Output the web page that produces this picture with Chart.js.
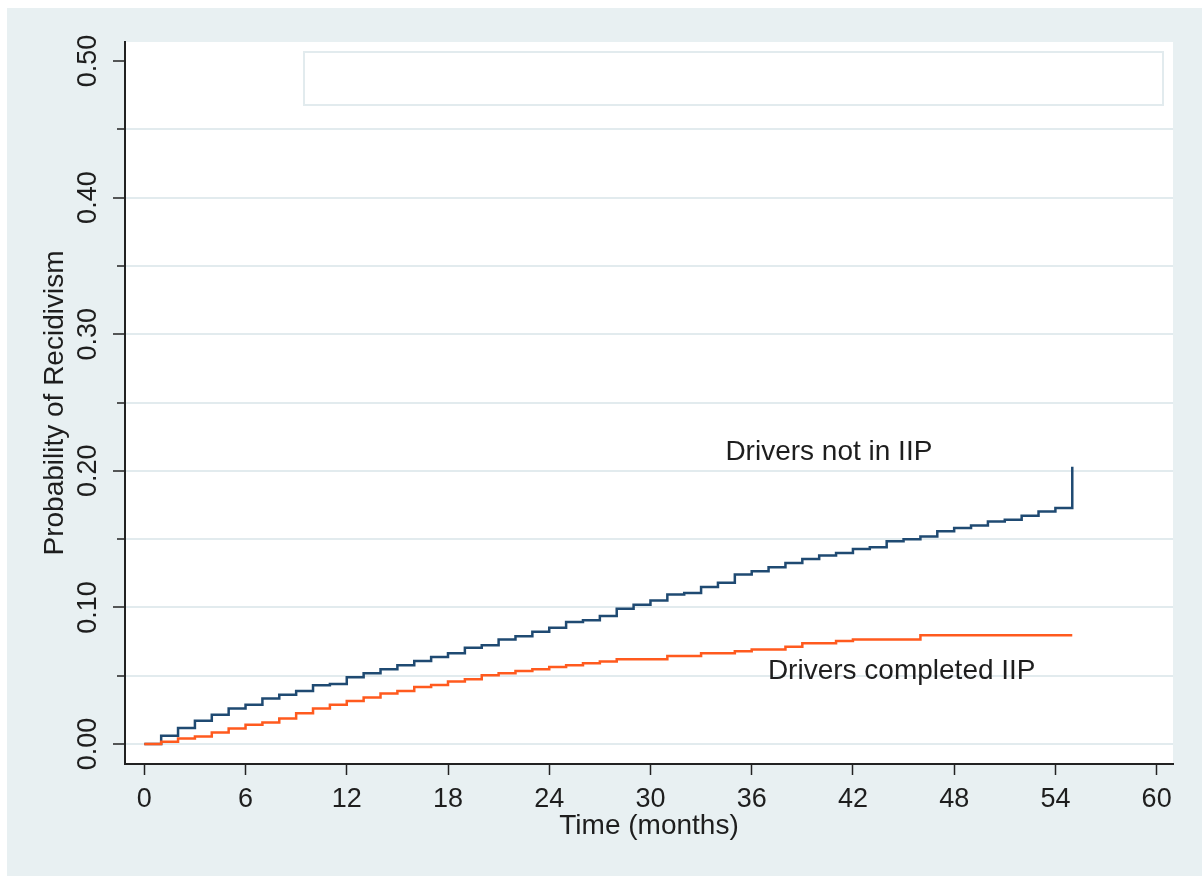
<!DOCTYPE html>
<html>
<head>
<meta charset="utf-8">
<script src="https://cdn.jsdelivr.net/npm/chart.js@4"></script>
<style>
  html, body { margin: 0; padding: 0; background: #ffffff; }
  #wrap { position: absolute; left: 7px; top: 8px; width: 1195px; height: 868px; background: #e8f0f2; }
</style>
</head>
<body>
<div id="wrap"><canvas id="kmChart" width="1195" height="868"></canvas></div>
<script>
// Cumulative probability of recidivism by month
const notInTime = [0, 1, 2, 3, 4, 5, 6, 7, 8, 9, 10, 11, 12, 13, 14, 15, 16, 17, 18, 19, 20,
    21, 22, 23, 24, 25, 26, 27, 28, 29, 30, 31, 32, 33, 34, 35, 36, 37, 38, 39, 40,
    41, 42, 43, 44, 45, 46, 47, 48, 49, 50, 51, 52, 53, 54, 55];
const notInRisk = [0, 0.006, 0.0117, 0.017, 0.0214, 0.026, 0.0287, 0.0333, 0.036, 0.0389, 0.043,
    0.044, 0.0489, 0.0518, 0.0547, 0.0577, 0.0608, 0.0637, 0.0664, 0.0705, 0.0723,
    0.0766, 0.079, 0.0822, 0.0851, 0.0894, 0.0907, 0.0937, 0.099, 0.102, 0.105,
    0.1095, 0.1105, 0.115, 0.118, 0.1241, 0.1265, 0.1294, 0.1326, 0.1355, 0.138,
    0.1399, 0.1428, 0.144, 0.1484, 0.150, 0.152, 0.1557, 0.1582, 0.1599, 0.163,
    0.1642, 0.1672, 0.1703, 0.1728, 0.203];

const completedTime = [0, 1, 2, 3, 4, 5, 6, 7, 8, 9, 10, 11, 12, 13, 14, 15, 16, 17, 18, 19, 20,
    21, 22, 23, 24, 25, 26, 27, 28, 31, 33, 35, 36, 38, 39, 41, 42, 46, 55];
const completedRisk = [0, 0.0017, 0.0041, 0.0056, 0.0085, 0.0114, 0.0141, 0.0158, 0.0187, 0.0226, 0.026,
    0.0287, 0.0316, 0.034, 0.037, 0.0389, 0.0418, 0.0433, 0.0457, 0.0474, 0.0504,
    0.0518, 0.0535, 0.0547, 0.0564, 0.0577, 0.0591, 0.0604, 0.062, 0.0645, 0.0664,
    0.068, 0.0693, 0.0713, 0.0737, 0.0754, 0.0766, 0.0796, 0.0796];

const xTicks = [0, 6, 12, 18, 24, 30, 36, 42, 48, 54, 60];
const yTicks = [0, 0.05, 0.10, 0.15, 0.20, 0.25, 0.30, 0.35, 0.40, 0.45, 0.50];
const yLabelled = [0, 0.10, 0.20, 0.30, 0.40, 0.50];

// curve labels, placed in data units
const noteText = ['Drivers not in IIP', 'Drivers completed IIP'];
const noteX = [34.44, 36.96];
const noteY = [0.2138, 0.0536];

const toPoints = (ts, vs) => ts.map((t, i) => ({ x: t, y: vs[i] }));
const isLabelled = v => yLabelled.some(l => Math.abs(l - v) < 1e-6);

const FONT = '"Liberation Sans", Arial, sans-serif';
const INK = '#1e1e1e';

// white plot region, the empty legend box and the curve labels
const decor = {
    id: 'decor',
    beforeDraw(chart) {
        const { ctx, chartArea: a } = chart;
        ctx.save();
        ctx.fillStyle = '#ffffff';
        ctx.fillRect(a.left, a.top, a.right - a.left, a.bottom - a.top);
        ctx.strokeStyle = '#e2ebee';
        ctx.lineWidth = 2;
        ctx.strokeRect(a.left + 179, a.top + 10, a.right - a.left - 189, 53);
        ctx.restore();
    },
    afterDatasetsDraw(chart) {
        const { ctx, scales } = chart;
        ctx.save();
        ctx.font = '28px ' + FONT;
        ctx.fillStyle = INK;
        ctx.textAlign = 'left';
        ctx.textBaseline = 'middle';
        noteText.forEach((t, i) => {
            ctx.fillText(t, scales.x.getPixelForValue(noteX[i]), scales.y.getPixelForValue(noteY[i]));
        });
        ctx.restore();
    }
};

new Chart(document.getElementById('kmChart').getContext('2d'), {
    type: 'line',
    data: {
        datasets: [
            {
                label: 'Drivers completed IIP',
                data: toPoints(completedTime, completedRisk),
                borderColor: '#ff5a1e',
                borderWidth: 2.5,
                stepped: true,
                pointRadius: 0,
                order: 0
            },
            {
                label: 'Drivers not in IIP',
                data: toPoints(notInTime, notInRisk),
                borderColor: '#1f4a72',
                borderWidth: 2.5,
                stepped: true,
                pointRadius: 0,
                order: 1
            }
        ]
    },
    options: {
        responsive: false,
        animation: false,
        devicePixelRatio: 1,
        layout: { padding: { top: 34, right: 29, left: 0, bottom: 0 } },
        plugins: { legend: { display: false }, tooltip: { enabled: false } },
        scales: {
            x: {
                type: 'linear',
                min: -1.144,
                max: 60.97,
                afterBuildTicks: s => { s.ticks = xTicks.map(v => ({ value: v })); },
                afterFit: s => { s.height = 112; },
                border: { display: true, color: '#222222', width: 2 },
                grid: { drawOnChartArea: false, drawTicks: true, tickLength: 11, tickColor: '#222222', tickWidth: 1.5 },
                ticks: {
                    autoSkip: false,
                    maxRotation: 0,
                    padding: 8,
                    color: INK,
                    font: { family: FONT, size: 27 },
                    callback: v => String(v)
                },
                title: {
                    display: true,
                    text: 'Time (months)',
                    color: INK,
                    font: { family: FONT, size: 28 },
                    padding: { top: 0, bottom: 33 }
                }
            },
            y: {
                type: 'linear',
                min: -0.0146,
                max: 0.5139,
                afterBuildTicks: s => { s.ticks = yTicks.map(v => ({ value: v })); },
                afterFit: s => { s.width = 118; },
                border: { display: true, color: '#222222', width: 2 },
                grid: {
                    color: c => (c.tick && Math.abs(c.tick.value - 0.5) < 1e-6) ? 'rgba(0,0,0,0)' : '#e2ebee',
                    lineWidth: 2,
                    tickLength: 12,
                    tickWidth: 1.5,
                    tickColor: '#222222',
                    tickBorderDash: c => (c.tick && !isLabelled(c.tick.value)) ? [7, 4] : [],
                    tickBorderDashOffset: c => (c.tick && !isLabelled(c.tick.value)) ? 7 : 0
                },
                ticks: {
                    autoSkip: false,
                    minRotation: 90,
                    maxRotation: 90,
                    crossAlign: 'center',
                    padding: -2,
                    color: INK,
                    font: { family: FONT, size: 27 },
                    callback: v => isLabelled(v) ? v.toFixed(2) : ''
                },
                title: {
                    display: true,
                    text: 'Probability of Recidivism',
                    color: INK,
                    font: { family: FONT, size: 28 },
                    padding: { top: 31, bottom: 0 }
                }
            }
        }
    },
    plugins: [decor]
});
</script>
</body>
</html>
